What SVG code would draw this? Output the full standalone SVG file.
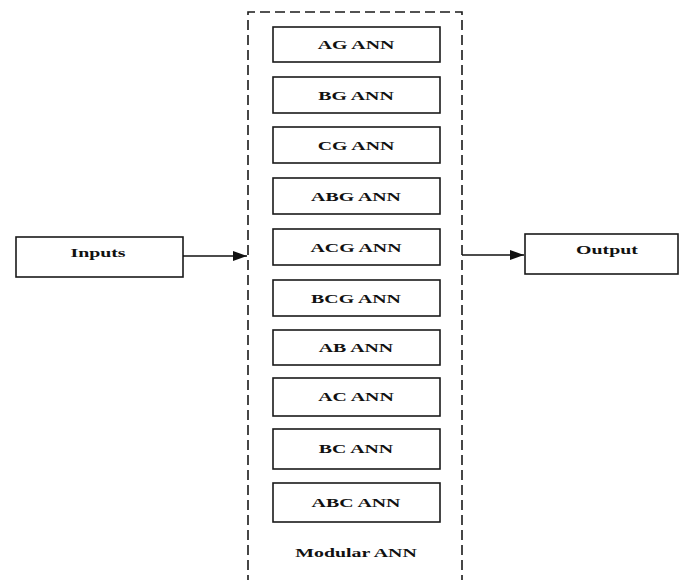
<svg xmlns="http://www.w3.org/2000/svg" width="680" height="580" viewBox="0 0 680 580">
<style>
.box{fill:#fff;stroke:#1a1a1a;stroke-width:1.6}
.lbl{font-family:"Liberation Serif","Times New Roman",serif;font-weight:bold;font-size:13.5px;fill:#111;text-anchor:middle}
.dash{fill:none;stroke:#1a1a1a;stroke-width:1.6;stroke-dasharray:10,5}
.conn{stroke:#111;stroke-width:1.3;fill:none}
</style>
<defs>
<marker id="arr" viewBox="0 0 14 10" refX="14" refY="5" markerWidth="14" markerHeight="10" markerUnits="userSpaceOnUse" orient="auto">
<path d="M0,0 L14,5 L0,10 z" fill="#111"/>
</marker>
</defs>
<rect width="680" height="580" fill="#fff"/>
<g id="modular">
<path class="dash" d="M248,600 L248,12 L462,12 L462,600"/>
<text class="lbl" transform="translate(356,557) scale(1.47,1)">Modular ANN</text>
</g>
<g id="ag"><rect class="box" x="273" y="27" width="167" height="35"/><text class="lbl" transform="translate(356,49) scale(1.47,1)">AG ANN</text></g>
<g id="bg"><rect class="box" x="273" y="77" width="167" height="36"/><text class="lbl" transform="translate(356,99.5) scale(1.47,1)">BG ANN</text></g>
<g id="cg"><rect class="box" x="273" y="127" width="167" height="36"/><text class="lbl" transform="translate(356,149.5) scale(1.47,1)">CG ANN</text></g>
<g id="abg"><rect class="box" x="273" y="178" width="167" height="36"/><text class="lbl" transform="translate(356,200.5) scale(1.47,1)">ABG ANN</text></g>
<g id="acg"><rect class="box" x="273" y="229" width="167" height="36"/><text class="lbl" transform="translate(356,251.5) scale(1.47,1)">ACG ANN</text></g>
<g id="bcg"><rect class="box" x="273" y="280" width="167" height="36"/><text class="lbl" transform="translate(356,302.5) scale(1.47,1)">BCG ANN</text></g>
<g id="ab"><rect class="box" x="273" y="330" width="167" height="35"/><text class="lbl" transform="translate(356,352) scale(1.47,1)">AB ANN</text></g>
<g id="ac"><rect class="box" x="273" y="378" width="167" height="38"/><text class="lbl" transform="translate(356,401) scale(1.47,1)">AC ANN</text></g>
<g id="bc"><rect class="box" x="273" y="429" width="167" height="40"/><text class="lbl" transform="translate(356,453) scale(1.47,1)">BC ANN</text></g>
<g id="abc"><rect class="box" x="273" y="483" width="167" height="39"/><text class="lbl" transform="translate(356,506.5) scale(1.47,1)">ABC ANN</text></g>
<g id="inputs"><rect class="box" x="16" y="237" width="167" height="40"/><text class="lbl" transform="translate(98,257) scale(1.47,1)">Inputs</text></g>
<g id="output"><rect class="box" x="525" y="234" width="153" height="40"/><text class="lbl" transform="translate(607,254) scale(1.47,1)">Output</text></g>
<g id="connectors">
<line class="conn" x1="183" y1="256" x2="247" y2="256" marker-end="url(#arr)"/>
<line class="conn" x1="462" y1="255" x2="524" y2="255" marker-end="url(#arr)"/>
</g>
</svg>
